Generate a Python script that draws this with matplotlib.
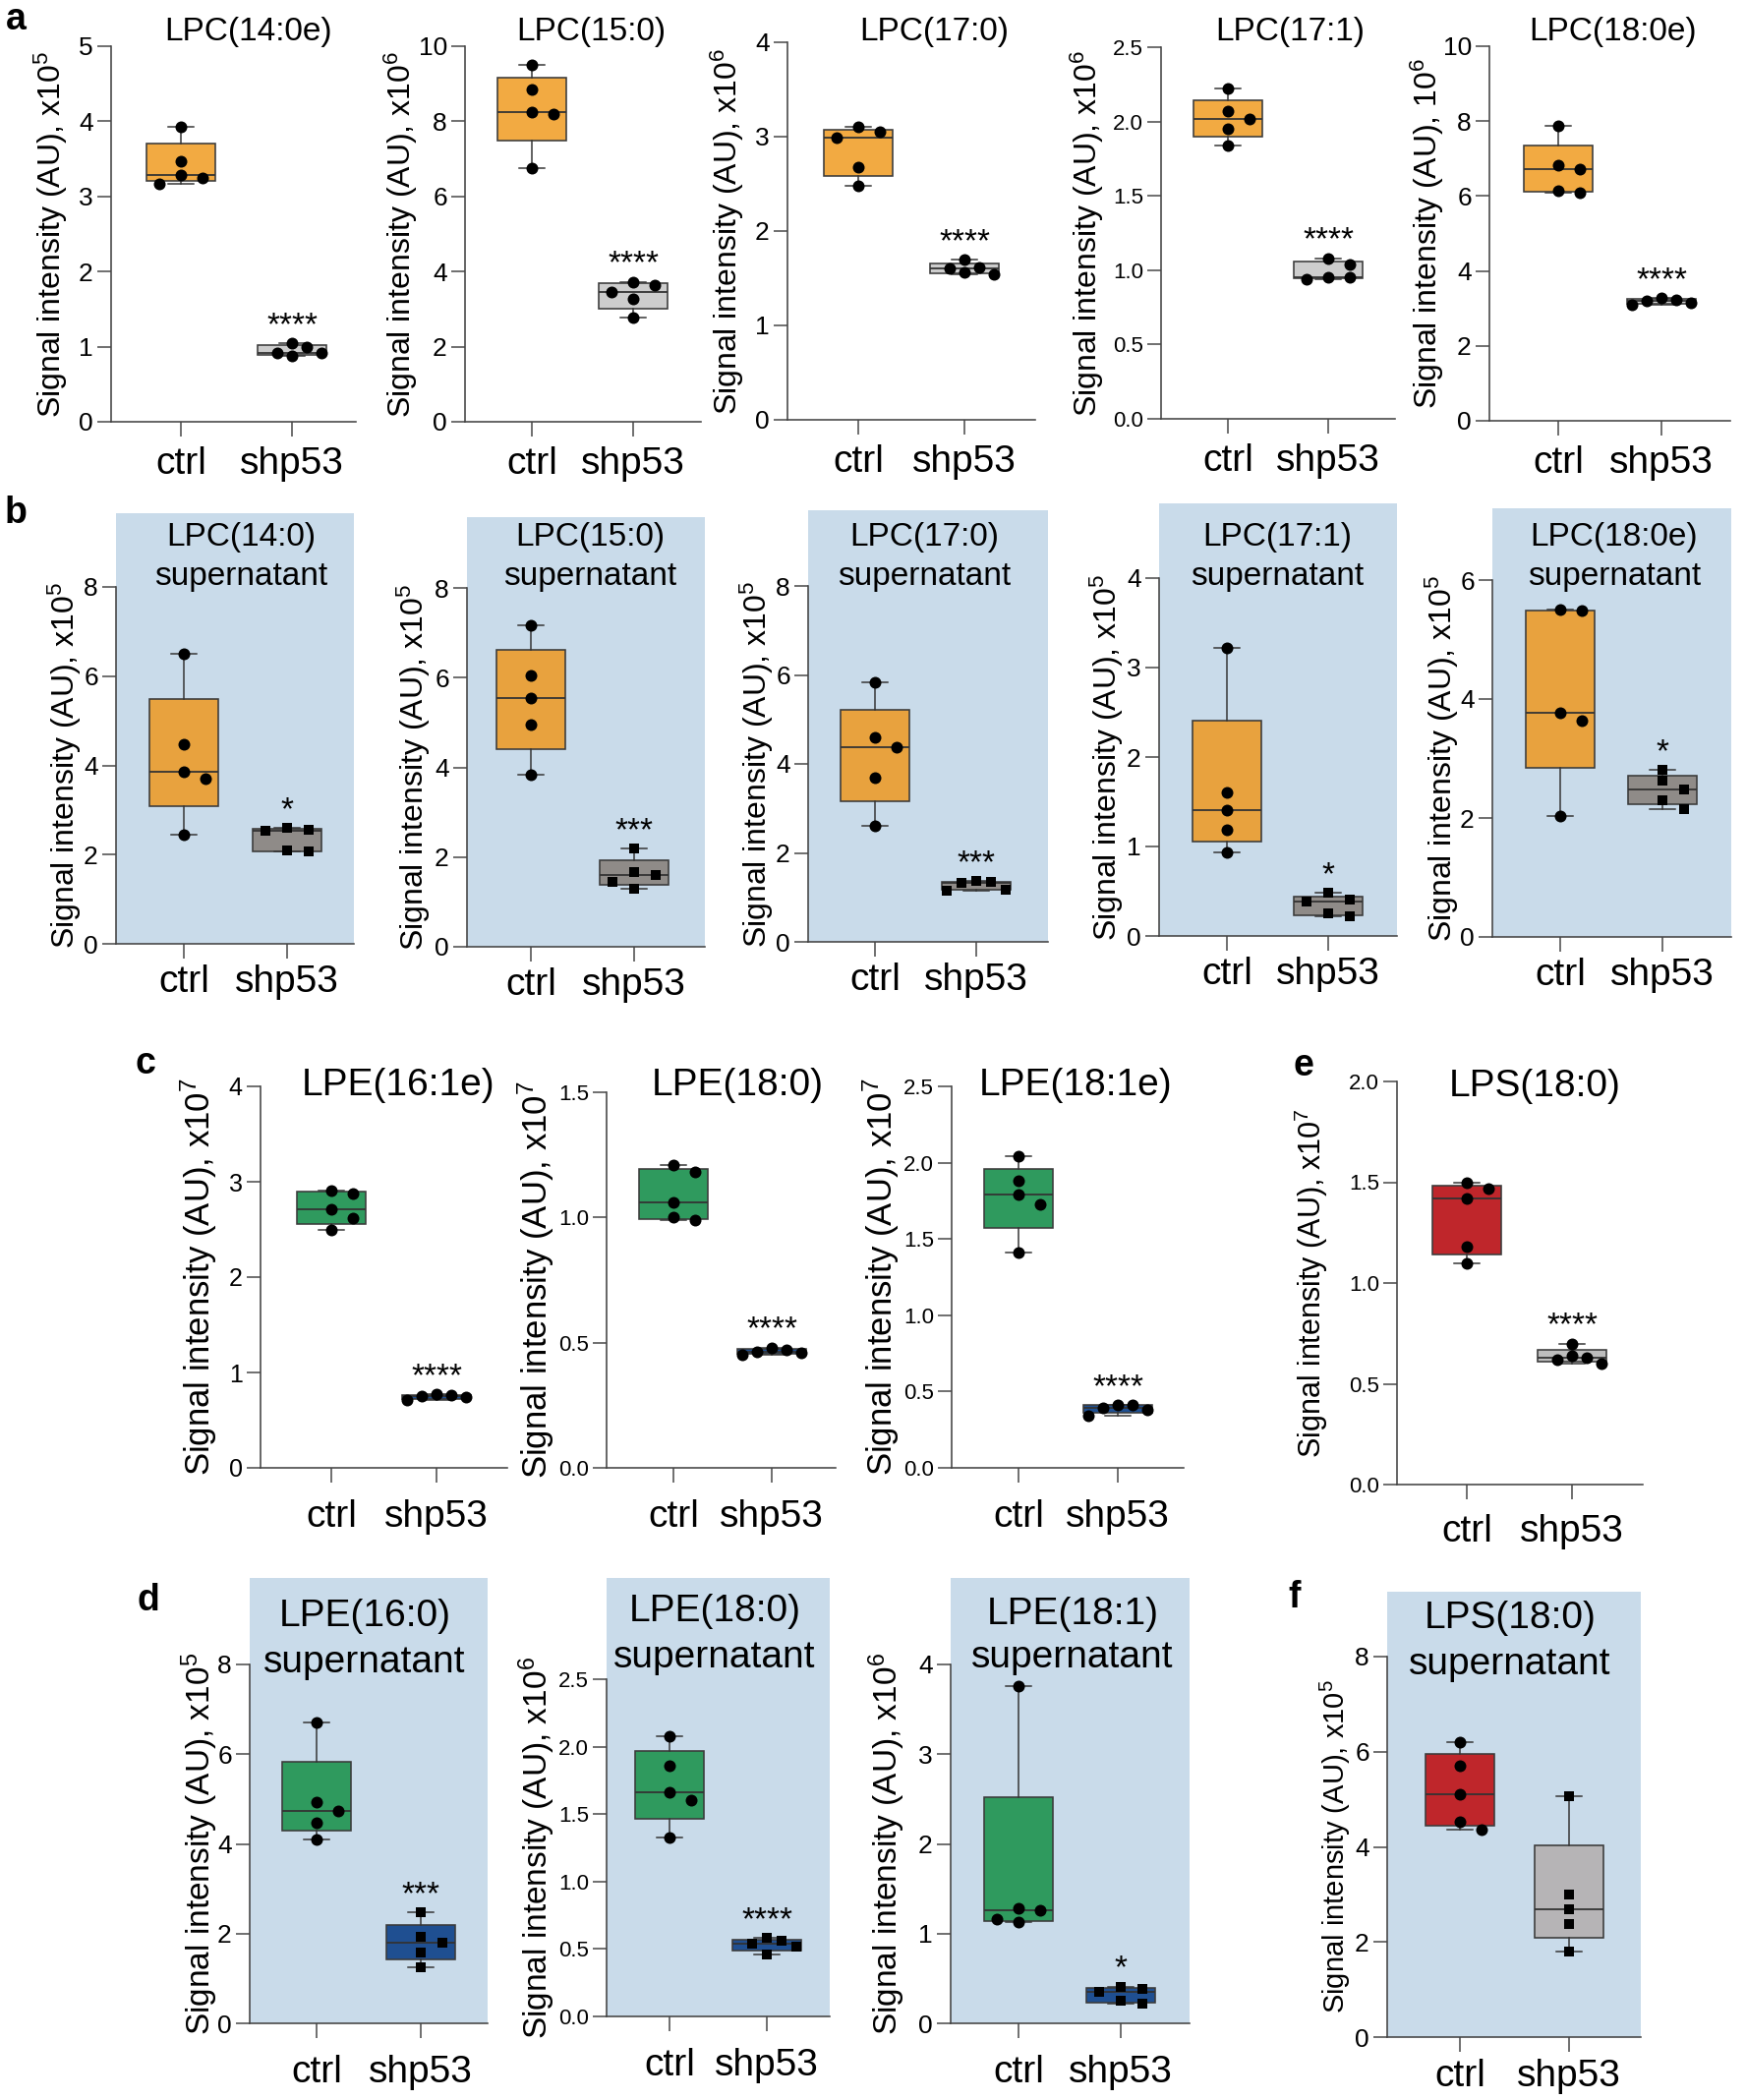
import numpy as np
import matplotlib
matplotlib.use("Agg")
import matplotlib.pyplot as plt
from matplotlib import font_manager

W, H = 1776, 2136
DPI = 100
PT = DPI / 72.0  # pixels per point

plt.rcParams['font.family'] = ['Liberation Sans', 'DejaVu Sans']
plt.rcParams['mathtext.fontset'] = 'custom'
plt.rcParams['mathtext.rm'] = 'Liberation Sans'
plt.rcParams['mathtext.it'] = 'Liberation Sans:italic'
plt.rcParams['mathtext.bf'] = 'Liberation Sans:bold'

try:
    font_manager.findfont(font_manager.FontProperties(family='Liberation Sans Narrow'),
                          fallback_to_default=False)
    NARROW = 'Liberation Sans Narrow'
except Exception:
    NARROW = 'Liberation Sans'

# ---------------- data ----------------
groups = ["ctrl", "shp53"]

a1_ctrl = [3.17, 3.25, 3.28, 3.47, 3.93]
a1_shp = [0.88, 0.91, 0.92, 0.99, 1.05]
a2_ctrl = [6.75, 8.20, 8.25, 8.85, 9.50]
a2_shp = [2.77, 3.26, 3.45, 3.65, 3.73]
a3_ctrl = [2.48, 2.68, 2.99, 3.05, 3.10]
a3_shp = [1.54, 1.56, 1.60, 1.61, 1.70]
a4_ctrl = [1.84, 1.95, 2.02, 2.07, 2.22]
a4_shp = [0.94, 0.95, 0.95, 1.04, 1.08]
a5_ctrl = [6.08, 6.13, 6.72, 6.83, 7.88]
a5_shp = [3.10, 3.15, 3.20, 3.22, 3.27]

b1_ctrl = [2.45, 3.70, 3.85, 4.47, 6.50]
b1_shp = [2.07, 2.09, 2.53, 2.56, 2.60]
b2_ctrl = [3.84, 4.96, 5.55, 6.05, 7.17]
b2_shp = [1.29, 1.45, 1.60, 1.67, 2.19]
b3_ctrl = [2.61, 3.69, 4.38, 4.60, 5.83]
b3_shp = [1.16, 1.18, 1.33, 1.35, 1.36]
b4_ctrl = [0.93, 1.19, 1.41, 1.60, 3.22]
b4_shp = [0.22, 0.25, 0.39, 0.41, 0.48]
b5_ctrl = [2.03, 3.64, 3.77, 5.48, 5.50]
b5_shp = [2.15, 2.30, 2.48, 2.62, 2.81]

c1_ctrl = [2.49, 2.62, 2.71, 2.88, 2.91]
c1_shp = [0.71, 0.74, 0.75, 0.76, 0.77]
c2_ctrl = [0.99, 1.00, 1.06, 1.18, 1.21]
c2_shp = [0.45, 0.46, 0.465, 0.47, 0.48]
c3_ctrl = [1.41, 1.73, 1.79, 1.88, 2.04]
c3_shp = [0.34, 0.38, 0.39, 0.41, 0.41]
e_ctrl = [1.10, 1.18, 1.42, 1.47, 1.50]
e_shp = [0.60, 0.62, 0.63, 0.64, 0.70]

d1_ctrl = [4.09, 4.48, 4.73, 4.94, 6.70]
d1_shp = [1.26, 1.58, 1.80, 1.92, 2.47]
d2_ctrl = [1.33, 1.60, 1.66, 1.86, 2.08]
d2_shp = [0.46, 0.52, 0.54, 0.56, 0.58]
d3_ctrl = [1.13, 1.16, 1.26, 1.28, 3.76]
d3_shp = [0.22, 0.25, 0.35, 0.38, 0.41]
f_ctrl = [4.37, 4.53, 5.11, 5.71, 6.20]
f_shp = [1.79, 2.37, 2.69, 3.00, 5.07]

titles = {
    'a1': ["LPC(14:0e)"], 'a2': ["LPC(15:0)"], 'a3': ["LPC(17:0)"],
    'a4': ["LPC(17:1)"], 'a5': ["LPC(18:0e)"],
    'b1': ["LPC(14:0)", "supernatant"], 'b2': ["LPC(15:0)", "supernatant"],
    'b3': ["LPC(17:0)", "supernatant"], 'b4': ["LPC(17:1)", "supernatant"],
    'b5': ["LPC(18:0e)", "supernatant"],
    'c1': ["LPE(16:1e)"], 'c2': ["LPE(18:0)"], 'c3': ["LPE(18:1e)"], 'e': ["LPS(18:0)"],
    'd1': ["LPE(16:0)", "supernatant"], 'd2': ["LPE(18:0)", "supernatant"],
    'd3': ["LPE(18:1)", "supernatant"], 'f': ["LPS(18:0)", "supernatant"],
}
exponents = {'a1': 'x10$^5$', 'a2': 'x10$^6$', 'a3': 'x10$^6$', 'a4': 'x10$^6$', 'a5': '10$^6$',
             'b1': 'x10$^5$', 'b2': 'x10$^5$', 'b3': 'x10$^5$', 'b4': 'x10$^5$', 'b5': 'x10$^5$',
             'c1': 'x10$^7$', 'c2': 'x10$^7$', 'c3': 'x10$^7$', 'e': 'x10$^7$',
             'd1': 'x10$^5$', 'd2': 'x10$^6$', 'd3': 'x10$^6$', 'f': 'x10$^5$'}
stars = {'a1': '****', 'a2': '****', 'a3': '****', 'a4': '****', 'a5': '****',
         'b1': '*', 'b2': '***', 'b3': '***', 'b4': '*', 'b5': '*',
         'c1': '****', 'c2': '****', 'c3': '****', 'e': '****',
         'd1': '***', 'd2': '****', 'd3': '*', 'f': ''}
yticks = {'a1': [0, 1, 2, 3, 4, 5], 'a2': [0, 2, 4, 6, 8, 10], 'a3': [0, 1, 2, 3, 4],
          'a4': [0.0, 0.5, 1.0, 1.5, 2.0, 2.5], 'a5': [0, 2, 4, 6, 8, 10],
          'b1': [0, 2, 4, 6, 8], 'b2': [0, 2, 4, 6, 8], 'b3': [0, 2, 4, 6, 8],
          'b4': [0, 1, 2, 3, 4], 'b5': [0, 2, 4, 6],
          'c1': [0, 1, 2, 3, 4], 'c2': [0.0, 0.5, 1.0, 1.5], 'c3': [0.0, 0.5, 1.0, 1.5, 2.0, 2.5],
          'e': [0.0, 0.5, 1.0, 1.5, 2.0],
          'd1': [0, 2, 4, 6, 8], 'd2': [0.0, 0.5, 1.0, 1.5, 2.0, 2.5], 'd3': [0, 1, 2, 3, 4],
          'f': [0, 2, 4, 6, 8]}

values = {'a1': (a1_ctrl, a1_shp), 'a2': (a2_ctrl, a2_shp), 'a3': (a3_ctrl, a3_shp),
          'a4': (a4_ctrl, a4_shp), 'a5': (a5_ctrl, a5_shp),
          'b1': (b1_ctrl, b1_shp), 'b2': (b2_ctrl, b2_shp), 'b3': (b3_ctrl, b3_shp),
          'b4': (b4_ctrl, b4_shp), 'b5': (b5_ctrl, b5_shp),
          'c1': (c1_ctrl, c1_shp), 'c2': (c2_ctrl, c2_shp), 'c3': (c3_ctrl, c3_shp),
          'e': (e_ctrl, e_shp),
          'd1': (d1_ctrl, d1_shp), 'd2': (d2_ctrl, d2_shp), 'd3': (d3_ctrl, d3_shp),
          'f': (f_ctrl, f_shp)}

# ---------------- styling ----------------
ORANGE_A = '#f2aa42'
ORANGE_B = '#e8a23e'
GRAY_A = '#cdcdcd'
GRAY_B = '#8f8b88'
GREEN = '#2f9a5e'
BLUE = '#1f4f91'
RED = '#bf262b'
GRAY_E = '#bdbdbd'
GRAY_F = '#b6b4b6'
BG = '#c9dbea'
AXC = '#444444'

colors = {}
for k in ['a1', 'a2', 'a3', 'a4', 'a5']:
    colors[k] = (ORANGE_A, GRAY_A)
for k in ['b1', 'b2', 'b3', 'b4', 'b5']:
    colors[k] = (ORANGE_B, GRAY_B)
for k in ['c1', 'c2', 'c3', 'd1', 'd2', 'd3']:
    colors[k] = (GREEN, BLUE)
colors['e'] = (RED, GRAY_E)
colors['f'] = (RED, GRAY_F)

# layout in pixels: L, R, y0, ytop(last tick), bgtop, ctrl x, shp x, ylabel x, title x, title y(s)
layout = {
    'a1': (113, 362, 429, 47, None, 184, 297, 52, 253, [32]),
    'a2': (473, 713, 429, 47, None, 541, 644, 408, 601, [32]),
    'a3': (801, 1053, 427, 43, None, 873, 981, 740, 950, [32]),
    'a4': (1181, 1419, 426, 48, None, 1249, 1351, 1106, 1312, [32]),
    'a5': (1515, 1760, 428, 47, None, 1585, 1690, 1452, 1641, [32]),
    'b1': (118, 360, 960, 597, 522, 187, 292, 66, 245, [547, 587]),
    'b2': (475, 717, 963, 598, 526, 540, 645, 421, 600, [547, 587]),
    'b3': (822, 1066, 958, 596, 519, 890, 993, 770, 940, [547, 587]),
    'b4': (1179, 1421, 952, 588, 512, 1248, 1351, 1126, 1299, [547, 587]),
    'b5': (1518, 1761, 953, 590, 517, 1587, 1691, 1467, 1642, [547, 587]),
    'c1': (265, 516, 1493, 1105, None, 337, 444, 202, 405, [1104]),
    'c2': (617, 850, 1493, 1111, None, 685, 785, 545, 750, [1104]),
    'c3': (968, 1204, 1493, 1105, None, 1036, 1137, 896, 1094, [1104]),
    'e': (1421, 1671, 1510, 1100, None, 1492, 1599, 1334, 1561, [1105]),
    'd1': (254, 496, 2058, 1693, 1605, 322, 428, 203, 371, [1644, 1691]),
    'd2': (617, 844, 2051, 1708, 1605, 681, 780, 546, 727, [1639, 1686]),
    'd3': (967, 1210, 2058, 1693, 1605, 1036, 1140, 902, 1091, [1642, 1686]),
    'f': (1411, 1669, 2072, 1685, 1619, 1485, 1596, 1358, 1536, [1646, 1693]),
}
row_of = {k: k[0] for k in layout}
title_fs = {'a': 24, 'b': 24, 'c': 28, 'e': 28, 'd': 28, 'f': 28}
ylabel_fs = {'a': 23, 'b': 23, 'c': 25, 'e': 22, 'd': 24, 'f': 21}
tick_fs = {'a': 19, 'b': 19, 'c': 18, 'e': 18, 'd': 19, 'f': 19}
xpad = {'a': 7, 'b': 4, 'c': 12, 'e': 11, 'd': 12, 'f': 5}
supernat = {'b', 'd', 'f'}

fig = plt.figure(figsize=(W / DPI, H / DPI), dpi=DPI)


def box_stats(vals):
    v = np.asarray(vals, float)
    q1, med, q3 = np.percentile(v, [25, 50, 75], method='weibull')
    return dict(med=med, q1=q1, q3=q3, whislo=v.min(), whishi=v.max(), fliers=[])


def swarm(vals, ppu, diam=12.0, step=22.0, limit=30.0):
    v = np.asarray(vals, float)
    order = np.argsort(-v, kind='stable')
    placed = []
    offs = np.zeros(len(v))
    for i in order:
        y = v[i] * ppu
        x = 0.0
        for k in [0, 1, -1, 2, -2, 3, -3]:
            x = k * step
            if all((x - px) ** 2 + (y - py) ** 2 >= (diam * 0.95) ** 2 for px, py in placed):
                break
        offs[i] = x
        placed.append((x, y))
    m = np.abs(offs).max()
    if m > limit:
        offs *= limit / m
    return offs


for key, (L, R, y0, ytop, bgtop, cx, sx, ylx, tx, tys) in layout.items():
    row = row_of[key]
    top_px = bgtop if bgtop is not None else ytop
    ax = fig.add_axes([L / W, 1 - y0 / H, (R - L) / W, (y0 - top_px) / H])
    s = sx - cx
    ax.set_xlim((L - cx) / s, (R - cx) / s)
    ticks = yticks[key]
    tmax = ticks[-1]
    ax.set_ylim(0, tmax * (y0 - top_px) / (y0 - ytop))
    ppu = (y0 - ytop) / tmax
    if bgtop is not None:
        ax.set_facecolor(BG)
    else:
        ax.patch.set_alpha(0)
    for sp in ['top', 'right']:
        ax.spines[sp].set_visible(False)
    for sp in ['left', 'bottom']:
        ax.spines[sp].set_color(AXC)
        ax.spines[sp].set_linewidth(1.6 / PT)
    ax.spines['left'].set_bounds(0, tmax)

    ctrl, shp = values[key]
    c_ctrl, c_shp = colors[key]
    stats = [box_stats(ctrl), box_stats(shp)]
    bp = ax.bxp(stats, positions=[0, 1], widths=70 / s, patch_artist=True, showfliers=False,
                boxprops=dict(linewidth=1.6 / PT, edgecolor='#3a3a3a'),
                medianprops=dict(color='#333333', linewidth=1.8 / PT),
                whiskerprops=dict(color='#333333', linewidth=1.5 / PT),
                capprops=dict(color='#333333', linewidth=1.5 / PT),
                capwidths=26 / s, zorder=2)
    bp['boxes'][0].set_facecolor(c_ctrl)
    bp['boxes'][1].set_facecolor(c_shp)

    for i, vals in enumerate([ctrl, shp]):
        offs = swarm(vals, ppu) / s
        square = (row in supernat) and i == 1
        ax.plot(i + offs, vals, ls='none', marker='s' if square else 'o',
                ms=(10.5 if square else 12) / PT, color='black', mec='black', mew=0,
                zorder=4, clip_on=False)

    if stars[key]:
        ax.annotate(stars[key], xy=(1, max(shp)), xytext=(0, 9 / PT),
                    textcoords='offset points', ha='center', va='baseline',
                    fontsize=24, zorder=5)

    ax.set_xticks([0, 1])
    ax.set_xticklabels(groups, fontsize=28)
    ax.set_yticks(ticks)
    dec = any(isinstance(t, float) for t in ticks)
    ax.set_yticklabels([('%.1f' % t) if dec else ('%d' % t) for t in ticks],
                       fontsize=(16 if dec else tick_fs[row]),
                       family=(NARROW if dec else 'Liberation Sans'))
    ax.tick_params(axis='y', length=14 / PT, width=1.5 / PT, color=AXC, pad=3)
    ax.tick_params(axis='x', length=15 / PT, width=1.5 / PT, color=AXC, pad=xpad[row])

    fig.text(ylx / W, 1 - ((y0 + ytop) / 2) / H,
             'Signal intensity (AU), ' + exponents[key], rotation=90,
             ha='center', va='center', fontsize=ylabel_fs[row])
    for line, ty in zip(titles[key], tys):
        fig.text(tx / W, 1 - ty / H, line, ha='center', va='center', fontsize=title_fs[row])

panel_letters = [('a', 16, 20), ('b', 16, 522), ('c', 148, 1082), ('d', 151, 1628),
                 ('e', 1326, 1084), ('f', 1317, 1625)]
for lt, x, y in panel_letters:
    fig.text(x / W, 1 - y / H, lt, ha='center', va='center', fontsize=27, fontweight='bold')

fig.savefig('out.png', dpi=DPI)
